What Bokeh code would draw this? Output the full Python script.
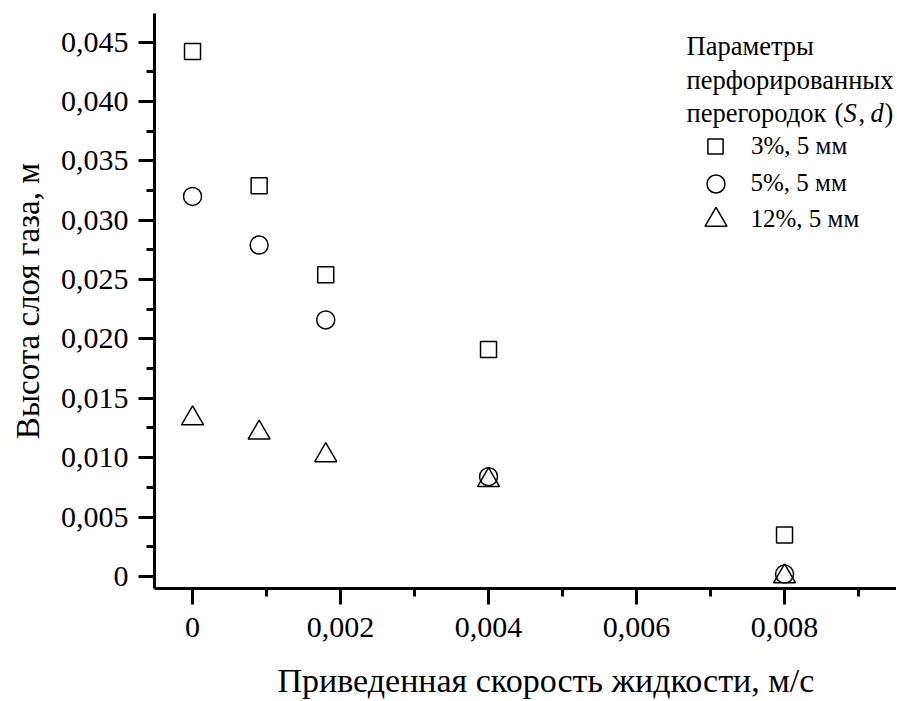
from bokeh.plotting import figure
from bokeh.models import (Range1d, FixedTicker, CustomJSTickFormatter, Legend, LegendItem, Label, Title)
from bokeh.embed import file_html
from bokeh.resources import INLINE

# ---- data ----
velocity = [0.0, 0.0009, 0.0018, 0.004, 0.008]
h_3pct = [0.0442, 0.0329, 0.0254, 0.0191, 0.0035]
h_5pct = [0.0320, 0.0279, 0.0216, 0.0084, 0.0002]
h_12pct = [0.0133, 0.0121, 0.0102, 0.0081, 0.0000]
series_labels = ["3%, 5 мм", "5%, 5 мм", "12%, 5 мм"]

x_major = [0.0, 0.002, 0.004, 0.006, 0.008]
x_minor = [0.001, 0.003, 0.005, 0.007, 0.009]
y_major = [0.0, 0.005, 0.010, 0.015, 0.020, 0.025, 0.030, 0.035, 0.040, 0.045]
y_minor = [0.0025, 0.0075, 0.0125, 0.0175, 0.0225, 0.0275, 0.0325, 0.0375, 0.0425]

FONT = "Liberation Serif, serif"

W, H = 896, 700
p = figure(width=W, height=H, output_backend="svg", toolbar_location=None,
           x_range=Range1d(-0.000514, 0.009513), y_range=Range1d(-0.001014, 0.0474),
           min_border_left=154, min_border_right=0, min_border_top=13, min_border_bottom=112)
p.outline_line_color = None
p.xgrid.visible = False
p.ygrid.visible = False
p.background_fill_color = "white"
p.border_fill_color = "white"

fmt = CustomJSTickFormatter(code="return tick === 0 ? '0' : tick.toFixed(3).replace('.', ',');")

for ax, major, minor in ((p.xaxis[0], x_major, x_minor), (p.yaxis[0], y_major, y_minor)):
    ax.ticker = FixedTicker(ticks=major, minor_ticks=minor)
    ax.formatter = fmt
    ax.axis_line_width = 3
    ax.axis_line_color = "black"
    ax.major_tick_line_width = 3
    ax.minor_tick_line_width = 3
    ax.major_tick_line_color = "black"
    ax.minor_tick_line_color = "black"
    ax.major_tick_in = 0
    ax.minor_tick_in = 0
    ax.major_tick_out = 16
    ax.minor_tick_out = 8
    ax.major_label_text_font = FONT
    ax.major_label_text_font_size = "30px"
    ax.major_label_text_color = "black"
    ax.axis_label_text_font = FONT
    ax.axis_label_text_font_size = "33px"
    ax.axis_label_text_font_style = "normal"
    ax.axis_label_text_color = "black"

p.yaxis.axis_label = "Высота слоя газа, м"
p.xaxis.major_label_standoff = 13
p.yaxis.major_label_standoff = 10
p.yaxis.axis_label_standoff = 12

# blank spacer panel, then the x-axis title shifted right like the reference
spacer = Title(text=" ", text_font_size="10px", standoff=7)
p.add_layout(spacer, "below")
x_title = Title(text="Приведенная скорость жидкости, м/с", align="left", offset=123,
                text_font=FONT, text_font_size="34px", text_font_style="normal",
                text_color="black", standoff=0)
p.add_layout(x_title, "below")

r_sq = p.scatter(velocity, h_3pct, marker="square", size=16, fill_color=None,
                 line_color="black", line_width=1.5)
r_ci = p.scatter(velocity, h_5pct, marker="circle", size=18, fill_color=None,
                 line_color="black", line_width=1.5)
r_tr = p.scatter(velocity, h_12pct, marker="triangle", size=22, fill_color=None,
                 line_color="black", line_width=1.5)

# frame bottom-left in picture px is about (155, 589)
FX, FY = 155, 589
marker_cx = 716
text_x = 752
rows = [(r_sq, 147, 38), (r_ci, 184, 45), (r_tr, 220, 55)]
for (r, cy, G), lab in zip(rows, series_labels):
    leg = Legend(items=[LegendItem(label=lab, renderers=[r])],
                 location=(marker_cx - G / 2 - FX, FY - (cy + G / 2)),
                 glyph_width=G, glyph_height=G, label_height=G,
                 label_standoff=int(text_x - (marker_cx + G / 2)),
                 padding=0, margin=0, spacing=0,
                 border_line_color=None, background_fill_alpha=0,
                 label_text_font=FONT, label_text_font_size="25px",
                 label_text_color="black")
    p.add_layout(leg)

def add_label(txt, px, baseline, size="26.5px", style="normal"):
    p.add_layout(Label(x=px - FX, y=FY - baseline, x_units="screen", y_units="screen",
                       text=txt, text_font=FONT, text_font_size=size,
                       text_font_style=style, text_baseline="alphabetic",
                       text_align="left", text_color="black"))

# legend title lines
add_label("Параметры", 687, 46)
add_label("перфорированных", 687, 80)
add_label("перегородок", 687, 113)
add_label("(", 835, 113)
add_label("S", 844, 113, style="italic")
add_label(",", 859, 113)
add_label("d", 871, 113, style="italic")
add_label(")", 885, 113)

open("out.html", "w").write(file_html(p, INLINE))
